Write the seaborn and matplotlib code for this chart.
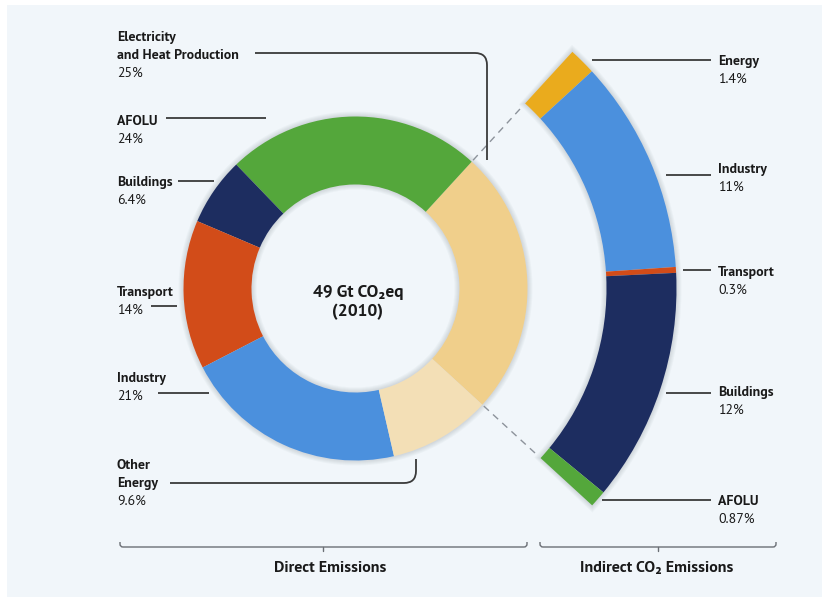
import matplotlib
matplotlib.use("Agg")
import matplotlib.pyplot as plt
from matplotlib import font_manager
from matplotlib.path import Path
from matplotlib.patches import PathPatch, Rectangle, Wedge
import seaborn as sns
import numpy as np

# ---- data -------------------------------------------------------------
direct_sectors = ["Electricity\nand Heat Production", "AFOLU", "Buildings",
                  "Transport", "Industry", "Other\nEnergy"]
direct_shares = [25, 24, 6.4, 14, 21, 9.6]

indirect_sectors = ["Energy", "Industry", "Transport", "Buildings", "AFOLU"]
indirect_shares = [1.4, 11, 0.3, 12, 0.87]

total_label = "49 Gt CO\u2082eq"
year_label = "(2010)"
group_labels = ["Direct Emissions", "Indirect CO\u2082 Emissions"]

direct_colors = ["#f0cf8b", "#54a73b", "#1d2d60", "#d24c19", "#4b90dd", "#f3dfb6"]
indirect_colors = ["#eaab1d", "#4b90dd", "#d24c19", "#1d2d60", "#54a73b"]

# ---- style ------------------------------------------------------------
sns.set_theme(style="white")
names = {f.name for f in font_manager.fontManager.ttflist}
base_font = "PT Sans" if "PT Sans" in names else "Liberation Sans"
plt.rcParams["font.family"] = [base_font, "DejaVu Sans"]

W, H = 823, 599
fig = plt.figure(figsize=(W / 100, H / 100), dpi=100, facecolor="white")
ax = fig.add_axes([0, 0, 1, 1])


def Y(yp):
    """Convert a top-down pixel row to the upward data axis."""
    return H - yp


# background panel
ax.add_patch(Rectangle((7, Y(597)), 815, 592, facecolor="#f1f6fa", edgecolor="none", zorder=0))

center = (355.5, Y(288.5))
R_in, w_in = 172, 68      # direct-emission ring
R_out, w_out = 321, 70    # indirect-emission arc

start_direct = -42.5
frac_elec = direct_shares[0] / sum(direct_shares)
elec_end = start_direct + 360 * frac_elec
filler = sum(indirect_shares) * (1 / frac_elec - 1)

# soft shadow under both rings
shade = (0.25, 0.3, 0.35, 0.035)
for k in range(1, 6):
    ax.add_patch(Wedge(center, R_in + k, 0, 360, width=w_in + 2 * k,
                       facecolor=shade, edgecolor="none", zorder=1))
    dth = np.degrees(k / R_out)
    ax.add_patch(Wedge(center, R_out + k, start_direct - dth, elec_end + dth,
                       width=w_out + 2 * k,
                       facecolor=shade, edgecolor="none", zorder=1))

# direct emissions donut
wedges_d, _ = ax.pie(direct_shares, colors=direct_colors, startangle=start_direct,
                     counterclock=True, radius=R_in, center=center,
                     wedgeprops=dict(width=w_in, linewidth=0))

# indirect emissions arc, spread over the electricity sector's angle
wedges_i, _ = ax.pie(indirect_shares + [filler],
                     colors=indirect_colors + ["none"], startangle=elec_end,
                     counterclock=False, radius=R_out, center=center,
                     wedgeprops=dict(width=w_out, linewidth=0))
for w in list(wedges_d) + list(wedges_i):
    w.set_zorder(2)

# dashed guides joining the electricity slice to the arc
for ang in (elec_end, start_direct):
    a = np.radians(ang)
    x0, y0 = center[0] + (R_in + 2) * np.cos(a), center[1] + (R_in + 2) * np.sin(a)
    x1, y1 = center[0] + (R_out - w_out - 2) * np.cos(a), center[1] + (R_out - w_out - 2) * np.sin(a)
    ax.plot([x0, x1], [y0, y1], color="#8d939b", lw=1.0, dashes=(5, 4), zorder=3)

line_kw = dict(color="#3a3a3a", lw=1.3, solid_capstyle="butt", zorder=3)


def rounded(points_xy, r=12):
    """Polyline with a rounded middle corner, given in pixel rows."""
    (xa, ya), (xc, yc), (xb, yb) = points_xy
    ya, yc, yb = Y(ya), Y(yc), Y(yb)
    dx1 = np.sign(xc - xa); dy1 = np.sign(yc - ya)
    dx2 = np.sign(xb - xc); dy2 = np.sign(yb - yc)
    p1 = (xc - dx1 * r, yc - dy1 * r)
    p2 = (xc + dx2 * r, yc + dy2 * r)
    verts = [(xa, ya), p1, (xc, yc), p2, (xb, yb)]
    codes = [Path.MOVETO, Path.LINETO, Path.CURVE3, Path.CURVE3, Path.LINETO]
    ax.add_patch(PathPatch(Path(verts, codes), facecolor="none",
                           edgecolor=line_kw["color"], lw=line_kw["lw"], zorder=3))


# leader lines of the direct ring
rounded([(255, 53), (487, 53), (487, 160)])
rounded([(170, 483), (416, 483), (416, 459)])
left_leaders = [(166, 266, 118), (178, 214, 181), (151, 177, 306), (158, 209, 393)]
for xa, xb, yp in left_leaders:
    ax.plot([xa, xb], [Y(yp), Y(yp)], **line_kw)

# leader lines of the indirect arc
right_leaders = [(592, 59.5), (666, 175), (683, 270), (666, 392.5), (602, 499.5)]
for xa, yp in right_leaders:
    ax.plot([xa, 711], [Y(yp), Y(yp)], **line_kw)

# labels
fs = 10
txt = "#1a1a1a"
step = 18


def put_label(x, y_first, name, value):
    lines = name.split("\n")
    for i, ln in enumerate(lines):
        ax.text(x, Y(y_first + i * step + 4.7), ln, fontsize=fs, fontweight="bold",
                color=txt, ha="left", va="baseline", zorder=4)
    ax.text(x, Y(y_first + len(lines) * step + 4.7), f"{value:g}%", fontsize=fs,
            color=txt, ha="left", va="baseline", zorder=4)


left_rows = [36, 120, 181.5, 291, 377, 464]
for name, val, yr in zip(direct_sectors, direct_shares, left_rows):
    put_label(117, yr, name, val)

right_rows = [60, 168, 271.5, 391, 500]
for name, val, yr in zip(indirect_sectors, indirect_shares, right_rows):
    put_label(718, yr, name, val)

# centre caption
ax.text(358, Y(292), total_label, fontsize=12.5, fontweight="bold", color=txt,
        ha="center", va="center", zorder=4)
ax.text(358, Y(312), year_label, fontsize=12.5, fontweight="bold", color=txt,
        ha="center", va="center", zorder=4)

# group brackets
bracket_col = "#6b6f75"


def bracket(xa, xb, xm):
    yl, ye, yt = Y(547), Y(542), Y(551)
    r = 3
    verts = [(xa, ye), (xa, yl + r), (xa, yl), (xa + r, yl), (xb - r, yl), (xb, yl), (xb, yl + r), (xb, ye)]
    codes = [Path.MOVETO, Path.LINETO, Path.CURVE3, Path.CURVE3, Path.LINETO,
             Path.CURVE3, Path.CURVE3, Path.LINETO]
    ax.add_patch(PathPatch(Path(verts, codes), facecolor="none", edgecolor=bracket_col,
                           lw=1.0, zorder=3))
    ax.plot([xm, xm], [yl, yt], color=bracket_col, lw=1.0, zorder=3)


bracket(120, 527, 323)
bracket(540, 776, 658)
ax.text(330, Y(568), group_labels[0], fontsize=11.5, fontweight="bold", color=txt,
        ha="center", va="center", zorder=4)
ax.text(657, Y(568), group_labels[1], fontsize=11.5, fontweight="bold", color=txt,
        ha="center", va="center", zorder=4)

ax.set_xlim(0, W)
ax.set_ylim(0, H)
ax.set_aspect("auto")
ax.axis("off")

fig.savefig("out.png", dpi=100, facecolor="white")
